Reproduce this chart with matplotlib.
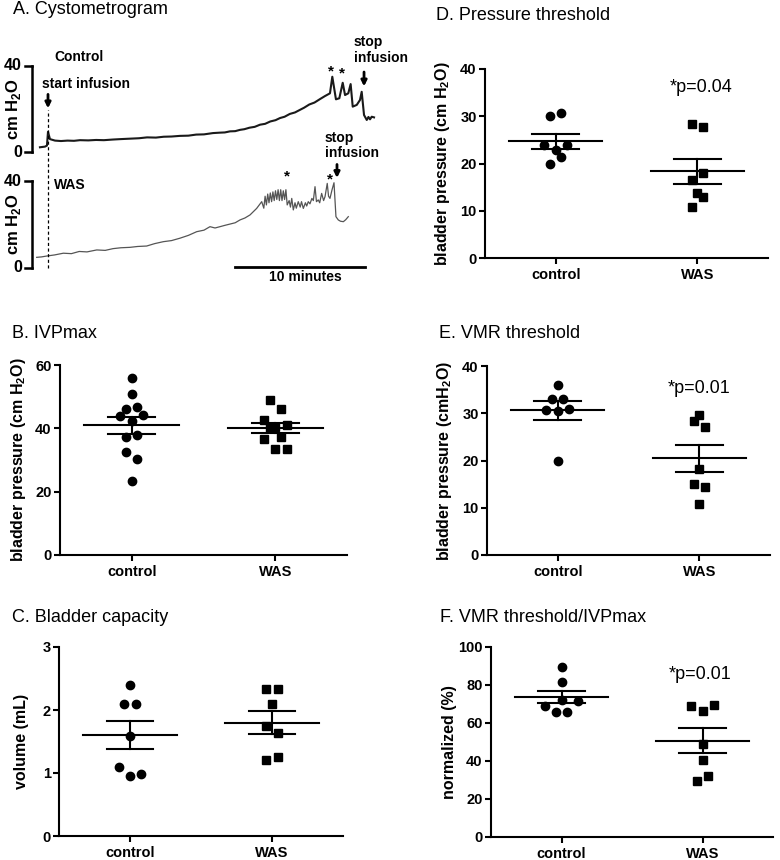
import numpy as np
import matplotlib
matplotlib.use("Agg")
import matplotlib.pyplot as plt

plt.rcParams['font.family'] = ['Liberation Sans', 'DejaVu Sans']
plt.rcParams['mathtext.fontset'] = 'custom'
plt.rcParams['mathtext.rm'] = 'Liberation Sans'
plt.rcParams['mathtext.bf'] = 'Liberation Sans:bold'

W, H = 780, 860

# ---- A. cystometrogram traces (minutes from start of infusion, cm H2O)
ctrl_t = [-0.62, -0.23, -0.08, 0.0, 0.15, 0.54, 1.0, 1.5, 2.0, 2.46, 3.1, 3.7,
          4.3, 5.0, 5.6, 6.3, 7.0, 7.62, 8.3, 8.9, 9.5, 10.15, 10.8, 11.4,
          12.0, 12.69, 13.23, 13.6, 14.0, 14.4, 14.77, 15.1, 15.5, 15.9,
          16.31, 16.7, 17.1, 17.5, 17.85, 18.2, 18.6, 19.0, 19.38, 19.7, 20.1,
          20.5, 20.92, 21.3, 21.69, 21.87, 22.15, 22.41, 22.67, 22.85, 23.1,
          23.28, 23.44, 23.75, 24.0, 24.13, 24.31, 24.52, 24.65, 24.77, 24.9,
          25.08]
ctrl_p = [2.2, 2.5, 3.0, 9.4, 6.0, 5.3, 5.1, 5.3, 5.2, 5.5, 5.4, 5.6,
          5.5, 5.8, 6.0, 6.2, 6.4, 6.8, 6.7, 7.1, 7.2, 7.5, 7.6, 8.1,
          8.2, 8.8, 9.0, 9.1, 9.6, 9.7, 10.3, 10.6, 11.3, 11.7,
          12.7, 13.1, 14.2, 14.8, 15.8, 16.4, 17.7, 18.4, 19.6, 20.6, 22.1,
          23.0, 24.6, 26.0, 27.3, 35.0, 24.5, 25.0, 32.2, 26.5, 27.3,
          31.6, 21.1, 21.9, 24.2, 28.0, 17.2, 14.9, 16.3, 15.2, 16.4,
          16.1]

was_t = [-0.87, -0.5, -0.10, 0.5, 1.18, 1.8, 2.4, 3.0, 3.75, 4.4, 5.0, 5.6,
         6.31, 6.9, 7.59, 8.2, 8.87, 9.5, 10.15, 10.8, 11.44, 12.0, 12.46,
         12.85, 13.23, 13.6, 14.0, 14.4, 14.77, 15.15, 15.54, 16.05, 16.44,
         16.6, 16.7, 16.8, 16.9, 17.0, 17.1, 17.2, 17.3, 17.4, 17.5, 17.6,
         17.7, 17.8, 17.9, 18.0, 18.1, 18.2, 18.3, 18.4,
         18.55, 18.65, 18.75, 18.87, 19.0, 19.1, 19.25, 19.4, 19.5, 19.64,
         19.8, 19.9, 20.02, 20.15, 20.3, 20.41, 20.54, 20.65, 20.79, 20.9,
         21.05, 21.2, 21.31, 21.48, 21.58, 21.69, 21.85, 22.0, 22.15, 22.33,
         22.5, 22.72, 22.9, 23.1]
was_p = [4.9, 5.1, 5.5, 6.0, 6.8, 6.6, 7.6, 7.4, 8.3, 8.1, 8.9, 9.3,
         9.5, 9.9, 10.1, 11.2, 12.1, 12.6, 13.7, 15.0, 16.7, 17.4, 19.0,
         18.4, 19.0, 19.6, 20.2, 20.8, 22.1, 23.0, 24.4, 27.4, 30.5,
         27.5, 33.0, 29.0, 34.0, 30.0, 34.5, 30.5, 35.0, 31.0, 35.5, 31.5,
         36.0, 31.0, 36.0, 31.0, 35.5, 31.5, 36.0, 29.0,
         31.0, 28.0, 32.0, 26.7, 30.0, 27.5, 30.5, 28.0, 30.5, 27.4,
         30.0, 28.5, 30.5, 29.5, 32.0, 31.0, 37.4, 30.5, 31.3, 30.0,
         34.3, 31.0, 32.8, 38.9, 33.0, 32.0, 36.0, 39.2, 23.6, 22.1,
         21.5, 21.3, 22.2, 23.6]

# ---- scatter panels: values and horizontal scatter (in dot widths)
groups = ["control", "WAS"]

ivp_ctrl = [56.0, 50.9, 46.2, 46.6, 44.0, 44.2, 42.4, 37.4, 37.8, 32.4, 30.2, 23.5]
ivp_ctrl_dx = [0, 0, -1, 1, -2, 2, 0, -1, 1, -1, 1, 0]
ivp_was = [48.8, 46.0, 42.6, 41.0, 40.5, 40.2, 37.3, 36.6, 33.4, 33.6]
ivp_was_dx = [-1, 1, -2, 2, 0, -1, 1, -2, 0, 2]

cap_ctrl = [2.40, 2.10, 2.10, 1.595, 1.09, 0.954, 0.98]
cap_ctrl_dx = [0, -1, 1, 0, -2, 0, 2]
cap_was = [2.33, 2.33, 2.10, 1.75, 1.64, 1.20, 1.25]
cap_was_dx = [-1, 1, 0, -1, 1, -1, 1]

pth_ctrl = [30.0, 30.7, 23.9, 23.9, 22.9, 21.4, 20.0]
pth_ctrl_dx = [-1, 1, -2, 2, 0, 1, -1]
pth_was = [28.4, 27.75, 18.0, 16.5, 13.7, 13.0, 10.8]
pth_was_dx = [-1, 1, 1, -1, 0, 1, -1]

vmr_ctrl = [36.0, 33.0, 33.0, 30.6, 30.5, 31.0, 20.0]
vmr_ctrl_dx = [0, -1, 1, -2, 0, 2, 0]
vmr_was = [29.7, 28.3, 27.0, 18.2, 15.1, 14.3, 10.7]
vmr_was_dx = [0, -1, 1, 0, -1, 1, 0]

norm_ctrl = [89.4, 81.7, 72.2, 71.5, 68.7, 66.0, 66.0]
norm_ctrl_dx = [0, 0, 0, 3, -3, -1, 1]
norm_was = [69.5, 68.7, 66.4, 48.9, 40.5, 32.0, 29.4]
norm_was_dx = [2, -2, 0, 0, 0, 1, -1]

fig = plt.figure(figsize=(W / 100, H / 100), dpi=100)


def box(left, top, right, bottom):
    return fig.add_axes([left / W, 1 - bottom / H, (right - left) / W, (bottom - top) / H])


def label(x, y, s, **kw):
    fig.text(x / W, 1 - y / H, s, va='center', ha='left', fontsize=13, **kw)


def dot_panel(ax, ctrl, ctrl_dx, was, was_dx, ymax, step, ylabel, lab_x, left, right):
    for i, (vals, dx, mk, ms) in enumerate([(ctrl, ctrl_dx, 'o', 6), (was, was_dx, 's', 5.5)]):
        xc = i + 1
        vals = np.array(vals)
        ax.plot(xc + 0.04 * np.array(dx), vals, mk, color='black', ms=ms,
                mec='black', clip_on=False, zorder=3)
        m = vals.mean()
        sem = vals.std(ddof=1) / np.sqrt(len(vals))
        ax.plot([xc - 0.33, xc + 0.33], [m, m], color='black', lw=1.5, zorder=4)
        ax.plot([xc - 0.165, xc + 0.165], [m + sem, m + sem], color='black', lw=1.5, zorder=4)
        ax.plot([xc - 0.165, xc + 0.165], [m - sem, m - sem], color='black', lw=1.5, zorder=4)
        ax.plot([xc, xc], [m - sem, m + sem], color='black', lw=1.5, zorder=4)
    ax.set_xlim(0.5, 2.5)
    ax.set_ylim(0, ymax)
    ax.set_yticks(np.arange(0, ymax + step / 2, step))
    ax.set_xticks([1, 2])
    ax.set_xticklabels(groups)
    for sp in ['top', 'right']:
        ax.spines[sp].set_visible(False)
    for sp in ['left', 'bottom']:
        ax.spines[sp].set_linewidth(1.5)
    ax.tick_params(width=1.5, length=4, labelsize=10.5, pad=2)
    ax.tick_params(axis='x', labelsize=10.5, pad=3)
    for t in ax.get_xticklabels() + ax.get_yticklabels():
        t.set_fontweight('bold')
    ax.set_ylabel(ylabel, fontsize=11.5, fontweight='bold')
    # ylabel anchor is the right edge of the rotated text
    ax.yaxis.set_label_coords((lab_x + 7 - left) / (right - left), 0.5)


# ---- panel A
ax_c = box(0, 60, 420, 160)
ax_w = box(0, 176, 420, 276)
tlim = (-48 / 13, (420 - 48) / 13)
ax_c.set_xlim(tlim)
ax_w.set_xlim(tlim)
ax_c.set_ylim(-3.72, 42.79)
ax_w.set_ylim(-3.68, 42.3)
ax_c.axis('off')
ax_w.axis('off')

ax_c.plot(ctrl_t, ctrl_p, color='#1a1a1a', lw=1.5)
ax_w.plot(was_t, was_p, color='#555555', lw=0.9)

for ax in (ax_c, ax_w):
    ax.plot([-1.23, -1.23], [0, 40], color='black', lw=1.8, clip_on=False)
    for yv in (0, 40):
        ax.plot([-1.77, -1.23], [yv, yv], color='black', lw=1.8, clip_on=False)
        ax.text(-2.0, yv, str(yv), ha='right', va='center', fontsize=11.5, fontweight='bold')
    ax.text(-2.65, 20, r'cm H$_\mathbf{2}$O', rotation=90, ha='center', va='center',
            fontsize=12, fontweight='bold')

# dashed start line spanning both traces
ax_w.plot([0, 0], [0, 72.6], color='black', lw=0.9, ls=(0, (2.5, 2)), clip_on=False)

arrow = dict(arrowstyle='-|>', color='black', lw=2, mutation_scale=8, shrinkA=0, shrinkB=0)
ax_c.annotate('', xy=(0, 20.3), xytext=(0, 26.8), arrowprops=arrow)
ax_c.text(-0.46, 31.6, 'start infusion', fontsize=10, fontweight='bold', va='center')
ax_c.text(0.46, 44.2, 'Control', fontsize=10, fontweight='bold', va='center')
ax_w.text(0.46, 38.2, 'WAS', fontsize=10, fontweight='bold', va='center')

ax_c.text(21.77, 37.6, '*', fontsize=11, fontweight='bold', ha='center', va='center')
ax_c.text(22.6, 36.7, '*', fontsize=11, fontweight='bold', ha='center', va='center')
ax_c.text(23.54, 47.5, 'stop\ninfusion', fontsize=10, fontweight='bold', va='center',
          linespacing=1.15)
ax_c.annotate('', xy=(24.31, 30.5), xytext=(24.31, 37.2), arrowprops=arrow)

ax_w.text(18.38, 42.2, '*', fontsize=11, fontweight='bold', ha='center', va='center')
ax_w.text(21.69, 40.8, '*', fontsize=11, fontweight='bold', ha='center', va='center')
ax_w.text(21.3, 56.3, 'stop\ninfusion', fontsize=10, fontweight='bold', va='center',
          linespacing=1.15)
ax_w.annotate('', xy=(22.23, 41.4), xytext=(22.23, 47.6), arrowprops=arrow)

ax_w.plot([14.38, 24.38], [0.6, 0.6], color='black', lw=2, clip_on=False)
ax_w.text(19.77, -4.1, '10 minutes', fontsize=10, fontweight='bold', ha='center', va='center')

# ---- scatter panels
ax_b = box(60, 365, 347, 555)
dot_panel(ax_b, ivp_ctrl, ivp_ctrl_dx, ivp_was, ivp_was_dx, 60, 20,
          r'bladder pressure (cm H$_\mathbf{2}$O)', 21, 60, 347)

ax_cc = box(59, 647, 343, 836)
dot_panel(ax_cc, cap_ctrl, cap_ctrl_dx, cap_was, cap_was_dx, 3, 1,
          'volume (mL)', 22, 59, 343)

ax_d = box(485, 69, 768, 258)
dot_panel(ax_d, pth_ctrl, pth_ctrl_dx, pth_was, pth_was_dx, 40, 10,
          r'bladder pressure (cm H$_\mathbf{2}$O)', 445, 485, 768)
ax_d.text(2.03, 36.0, '*p=0.04', fontsize=13, ha='center', va='center')

ax_e = box(487, 366, 770, 555)
dot_panel(ax_e, vmr_ctrl, vmr_ctrl_dx, vmr_was, vmr_was_dx, 40, 10,
          r'bladder pressure (cmH$_\mathbf{2}$O)', 447, 487, 770)
ax_e.text(2.0, 35.3, '*p=0.01', fontsize=13, ha='center', va='center')

ax_f = box(491, 647, 773, 837)
dot_panel(ax_f, norm_ctrl, norm_ctrl_dx, norm_was, norm_was_dx, 100, 20,
          'normalized (%)', 450, 491, 773)
ax_f.text(1.98, 85.3, '*p=0.01', fontsize=13, ha='center', va='center')

# panel titles
label(13, 10, 'A. Cystometrogram')
label(12, 333, 'B. IVPmax')
label(12, 617, 'C. Bladder capacity')
label(436, 16, 'D. Pressure threshold')
label(439, 333, 'E. VMR threshold')
label(440, 617, 'F. VMR threshold/IVPmax')

fig.savefig('out.png', dpi=100)
